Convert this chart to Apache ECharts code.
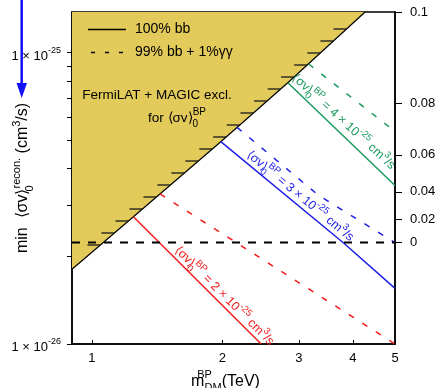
<!DOCTYPE html>
<html><head><meta charset="utf-8">
<script src="https://cdn.jsdelivr.net/npm/echarts@6.0.0/dist/echarts.min.js"></script>
<style>html,body{margin:0;padding:0;background:#fff}#c{width:438px;height:388px}</style>
</head><body><div id="c"></div>
<script>
const FONT = "'Liberation Sans', Arial, Helvetica, sans-serif";

// ---- axis ranges & ticks ----
const xRange = [0.9, 5];
const yRange = [1e-26, 1.38e-25];
const xTickValues = [1, 2, 3, 4, 5];
const xTickLabels = ['1', '2', '3', '4', '5'];
const yMajorTicks = [1e-26, 1e-25];
const yMajorMantissa = ['1 × 10', '1 × 10'];
const yMajorExponent = ['-26', '-25'];
const yMinorTicks = [2e-26, 3e-26, 4e-26, 5e-26, 6e-26, 7e-26, 8e-26, 9e-26];
// right-hand scale: tick positions expressed in left-axis units
const rightTickPositions = [1.38e-25, 6.70e-26, 4.46e-26, 3.33e-26, 2.68e-26, 2.231e-26];
const rightTickLabels = ['0.1', '0.08', '0.06', '0.04', '0.02', '0'];

// ---- FermiLAT + MAGIC exclusion boundary ----
const exclMass  = [0.9, 1.247, 1.983, 2.830, 4.266];
const exclSigma = [1.805e-26, 2.735e-26, 4.95e-26, 7.89e-26, 1.38e-25];

// ---- benchmark curves ----
const redSolidMass   = [1.247, 2.457];
const redSolidSigma  = [2.735e-26, 1.0e-26];
const redDashMass    = [1.436, 5.0];
const redDashSigma   = [3.275e-26, 1.0e-26];
const blueSolidMass  = [1.983, 3.80, 5.0];
const blueSolidSigma = [4.95e-26, 2.227e-26, 1.553e-26];
const blueDashMass   = [2.162, 3.324, 5.0];
const blueDashSigma  = [5.54e-26, 3.247e-26, 2.229e-26];
const greenSolidMass  = [2.835, 5.0];
const greenSolidSigma = [7.87e-26, 3.50e-26];
const greenDashMass   = [3.161, 5.0];
const greenDashSigma  = [9.147e-26, 5.37e-26];

const curveCoef = ['2', '3', '4'];
const curveExp = '-25';
const legendNames = ['100% bb', '99% bb + 1%γγ'];

const RED = '#f21c1c', BLUE = '#1e1ee6', GREEN = '#1a9a5c', GOLD = '#E2CA5B';

const L = Math.log10;
const pairs = (xs, ys) => xs.map((x, i) => [L(x), L(ys[i])]);
const near = (arr, v) => arr.findIndex(a => Math.abs(L(a) - v) < 1e-9);

const chart = echarts.init(document.getElementById('c'), null, {renderer: 'canvas'});

function solid(name, xs, ys, color) {
  return {type: 'line', name, data: pairs(xs, ys), symbol: 'none', silent: true, z: 3,
    lineStyle: {color, width: 1.5}, itemStyle: {color}};
}
function dashed(name, xs, ys, color) {
  return {type: 'line', name, data: pairs(xs, ys), symbol: 'none', silent: true, z: 3,
    lineStyle: {color, width: 1.5, type: [6, 10]}, itemStyle: {color}};
}

const subRich = {
  t: {fontSize: 16, lineHeight: 24, fontFamily: FONT, color: '#000'},
  m: {fontSize: 16, lineHeight: 24, fontFamily: FONT, color: '#000'},
  sb: {fontSize: 11, lineHeight: 11, verticalAlign: 'bottom', fontFamily: FONT, color: '#000'},
  sp0: {fontSize: 11, lineHeight: 11, verticalAlign: 'top', fontFamily: FONT, color: '#000', width: 0.1}
};

const zeroPos = rightTickPositions[rightTickLabels.indexOf('0')];

const option = {
  animation: false,
  backgroundColor: '#fff',
  grid: {left: 72, right: 43, top: 12, bottom: 44, show: true, borderColor: '#000', borderWidth: 1.5,
    backgroundColor: 'transparent', outerBoundsMode: 'none', containLabel: false},
  legend: {
    data: [
      {name: legendNames[0], icon: 'path://M0,0H38V1.5H0Z'},
      {name: legendNames[1], icon: 'path://M0,0H4V1.5H0Z M14,0H18V1.5H14Z M28,0H32V1.5H28Z'}
    ],
    orient: 'vertical', left: 88, top: 18, padding: 0, itemWidth: 38, itemHeight: 1.5, itemGap: 0,
    selectedMode: false,
    textStyle: {fontSize: 14, lineHeight: 23, fontFamily: FONT, color: '#000', padding: [0, 0, 0, 4]}
  },
  xAxis: {
    type: 'value', min: L(xRange[0]), max: L(xRange[1]),
    name: '{m|m}{sp0|BP}{sb|DM}{t|(TeV)}', nameLocation: 'middle', nameGap: 23,
    nameTextStyle: {rich: subRich, padding: [0, 16, 0, 0]},
    axisLine: {show: true, onZero: false, lineStyle: {color: '#000', width: 1.5}},
    axisTick: {show: true, inside: true, length: 4, lineStyle: {color: '#000', width: 1}, customValues: xTickValues.map(L)},
    axisLabel: {show: true, margin: 8, fontSize: 13, fontFamily: FONT, color: '#000',
      customValues: xTickValues.map(L), formatter: v => xTickLabels[near(xTickValues, v)]},
    splitLine: {show: false}
  },
  yAxis: [{
    type: 'value', min: L(yRange[0]), max: L(yRange[1]), position: 'left',
    axisLine: {show: true, onZero: false, lineStyle: {color: '#000', width: 1.5}},
    axisTick: {show: true, inside: false, length: 5, lineStyle: {color: '#000', width: 1},
      customValues: yMajorTicks.concat(yMinorTicks).map(L)},
    axisLabel: {show: true, margin: 11, fontFamily: FONT, color: '#000', padding: [7, 0, 0, 0],
      customValues: yMajorTicks.map(L),
      formatter: v => { const i = near(yMajorTicks, v); return '{a|' + yMajorMantissa[i] + '}{b|' + yMajorExponent[i] + '}'; },
      rich: {a: {fontSize: 13, lineHeight: 20, fontFamily: FONT, color: '#000'},
             b: {fontSize: 9, lineHeight: 11, verticalAlign: 'top', fontFamily: FONT, color: '#000'}}},
    splitLine: {show: false}
  }, {
    type: 'value', min: L(yRange[0]), max: L(yRange[1]), position: 'right',
    axisLine: {show: true, onZero: false, lineStyle: {color: '#000', width: 1.5}},
    axisTick: {show: true, inside: false, length: 7, lineStyle: {color: '#000', width: 1}, customValues: rightTickPositions.map(L)},
    axisLabel: {show: true, margin: 15, fontSize: 13, fontFamily: FONT, color: '#000',
      customValues: rightTickPositions.map(L), formatter: v => rightTickLabels[near(rightTickPositions, v)]},
    splitLine: {show: false}
  }],
  series: [
    {type: 'line', name: 'exclusion', data: pairs(exclMass, exclSigma), symbol: 'none', silent: true, z: 1,
      lineStyle: {color: '#000', width: 1.2}, areaStyle: {color: GOLD, opacity: 1, origin: 'end'}},
    {type: 'custom', name: 'hatch', coordinateSystem: 'cartesian2d', silent: true, z: 4, clip: true,
      data: [[L(exclMass[0]), L(exclSigma[0])]],
      renderItem(params, api) {
        const pts = exclMass.map((m, i) => api.coord([L(m), L(exclSigma[i])]));
        const top = params.coordSys.y;
        const children = [];
        for (let y = pts[0][1] - 24.3; y >= top + 16; y -= 12) {
          let x = null;
          for (let i = 0; i < pts.length - 1; i++) {
            const a = pts[i], b = pts[i + 1];
            if (y <= a[1] && y >= b[1]) { x = a[0] + (b[0] - a[0]) * (a[1] - y) / (a[1] - b[1]); break; }
          }
          if (x == null) continue;
          children.push({type: 'line', shape: {x1: x - 13, y1: y, x2: x, y2: y}, style: {stroke: '#1a1a1a', lineWidth: 1.3}});
        }
        return {type: 'group', children};
      }},
    solid('red solid', redSolidMass, redSolidSigma, RED),
    dashed('red dashed', redDashMass, redDashSigma, RED),
    solid('blue solid', blueSolidMass, blueSolidSigma, BLUE),
    dashed('blue dashed', blueDashMass, blueDashSigma, BLUE),
    solid('green solid', greenSolidMass, greenSolidSigma, GREEN),
    dashed('green dashed', greenDashMass, greenDashSigma, GREEN),
    {type: 'line', name: 'zero', data: [[L(xRange[0]), L(zeroPos)], [L(xRange[1]), L(zeroPos)]], symbol: 'none', silent: true, z: 5,
      lineStyle: {color: '#000', width: 2, type: [8, 8]}},
    {type: 'line', name: legendNames[0], data: [], symbol: 'none', lineStyle: {color: '#000', width: 1.5}, itemStyle: {color: '#000'}},
    {type: 'line', name: legendNames[1], data: [], symbol: 'none', lineStyle: {color: '#000', width: 1.5, type: [4, 10]}, itemStyle: {color: '#000'}}
  ]
};
chart.setOption(option);

// ---- annotations ----
function px(x, y) { return chart.convertToPixel({xAxisIndex: 0, yAxisIndex: 0}, [L(x), L(y)]); }
function labelAlong(xs, ys, t, d) {
  const p = xs.map((x, i) => px(x, ys[i]));
  const seg = []; let tot = 0;
  for (let i = 0; i < p.length - 1; i++) { const l = Math.hypot(p[i+1][0]-p[i][0], p[i+1][1]-p[i][1]); seg.push(l); tot += l; }
  let s = t * tot, i = 0;
  while (i < seg.length - 1 && s > seg[i]) { s -= seg[i]; i++; }
  const dx = (p[i+1][0]-p[i][0]) / seg[i], dy = (p[i+1][1]-p[i][1]) / seg[i];
  const cx = p[i][0] + dx * s + dy * d, cy = p[i][1] + dy * s - dx * d;
  return {x: cx, y: cy, rotation: -Math.atan2(dy, dx)};
}
function curveLabel(xs, ys, t, d, coef, color, rot) {
  const pos = labelAlong(xs, ys, t, d);
  return {type: 'text', x: pos.x, y: pos.y, rotation: rot != null ? rot : pos.rotation, silent: true, z: 10,
    style: {text: '{a|⟨σv⟩}{b|0}{c|BP}{a| = ' + coef + ' × 10}{c|' + curveExp + '}{a| cm}{c|3}{a|/s}',
      align: 'center', verticalAlign: 'middle', fill: color,
      rich: {a: {fontSize: 12.5, lineHeight: 20, fontFamily: FONT, fill: color},
             b: {fontSize: 9.5, lineHeight: 10, verticalAlign: 'bottom', fontFamily: FONT, fill: color, width: 0.1},
             c: {fontSize: 9.5, lineHeight: 10, verticalAlign: 'top', fontFamily: FONT, fill: color}}}};
}
const blk = '#000';
const titleRich = {
  t: {fontSize: 16, lineHeight: 24, fontFamily: FONT, fill: blk},
  b: {fontSize: 11, lineHeight: 11, verticalAlign: 'bottom', fontFamily: FONT, fill: blk, width: 0.1},
  c: {fontSize: 11, lineHeight: 11, verticalAlign: 'top', fontFamily: FONT, fill: blk}
};
chart.setOption({graphic: [
  curveLabel(redSolidMass, redSolidSigma, 0.666, 8, curveCoef[0], RED),
  curveLabel(blueSolidMass, blueSolidSigma, 0.42, 8.5, curveCoef[1], BLUE),
  curveLabel(greenSolidMass, greenSolidSigma, 0.45, 10.5, curveCoef[2], GREEN, -42.5 * Math.PI / 180),
  {type: 'text', x: 157, y: 95, silent: true, z: 10,
    style: {text: 'FermiLAT + MAGIC excl.', align: 'center', verticalAlign: 'middle', fill: blk, font: '13.5px ' + FONT}},
  {type: 'text', x: 148, y: 118, silent: true, z: 10,
    style: {text: '{a|for ⟨σv⟩}{b|0}{c|BP}', align: 'left', verticalAlign: 'middle', fill: blk,
      rich: {a: {fontSize: 13.5, lineHeight: 22, fontFamily: FONT, fill: blk},
             b: {fontSize: 10, lineHeight: 10, verticalAlign: 'bottom', fontFamily: FONT, fill: blk, width: 0.1},
             c: {fontSize: 10, lineHeight: 10, verticalAlign: 'top', fontFamily: FONT, fill: blk}}}},
  {type: 'text', x: 23, y: 178, rotation: Math.PI / 2, silent: true, z: 10,
    style: {text: '{t|min  ⟨σv⟩}{b|0}{c|recon.}{t| (cm}{c|3}{t|/s)}', align: 'center', verticalAlign: 'middle', fill: blk, rich: titleRich}},
  {type: 'line', silent: true, z: 10, shape: {x1: 21.7, y1: 0, x2: 21.7, y2: 86}, style: {stroke: '#1010ff', lineWidth: 2.5}},
  {type: 'polygon', silent: true, z: 10, shape: {points: [[16.5, 83], [27, 83], [21.7, 98]]}, style: {fill: '#1010ff'}}
]});
</script></body></html>
